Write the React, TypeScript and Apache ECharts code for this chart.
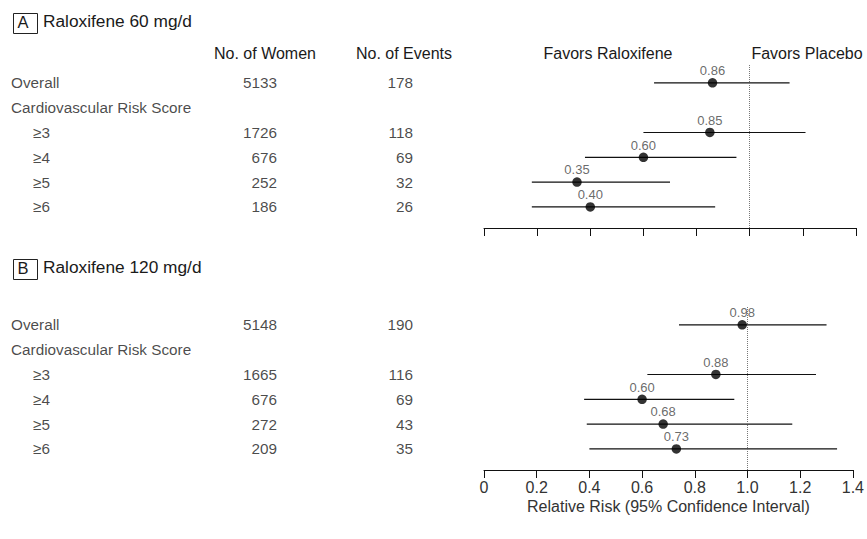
import React, { useEffect, useRef } from 'react';
import * as echarts from 'echarts';

// ---------- data ----------
const rowLabels = ['Overall', 'Cardiovascular Risk Score', '≥3', '≥4', '≥5', '≥6'];
const rowIndent = [false, false, true, true, true, true];

const panelTitles = ['Raloxifene 60 mg/d', 'Raloxifene 120 mg/d'];
const panelLetters = ['A', 'B'];

const womenA = [5133, null, 1726, 676, 252, 186];
const eventsA = [178, null, 118, 69, 32, 26];
const rrA = [0.86, null, 0.85, 0.6, 0.35, 0.4];
const loA = [0.64, null, 0.6, 0.38, 0.18, 0.18];
const hiA = [1.15, null, 1.21, 0.95, 0.7, 0.87];

const womenB = [5148, null, 1665, 676, 272, 209];
const eventsB = [190, null, 116, 69, 43, 35];
const rrB = [0.98, null, 0.88, 0.6, 0.68, 0.73];
const loB = [0.74, null, 0.62, 0.38, 0.39, 0.4];
const hiB = [1.3, null, 1.26, 0.95, 1.17, 1.34];

const columnHeaders = ['No. of Women', 'No. of Events'];
const favorLabels = ['Favors Raloxifene', 'Favors Placebo'];
const xAxisName = 'Relative Risk (95% Confidence Interval)';
const xMin = 0;
const xMax = 1.4;
const xStep = 0.2;
const refValue = 1.0;

// ---------- layout ----------
const FONT = '"Liberation Sans", Arial, Helvetica, sans-serif';
const TXT = '#1a1a1a';
const plotLeft = 484;
const plotWidth = 372;
const tableLeft = 11;
const tableWidth = 402;
const panelTops = [65, 307];
const panelHeight = 163;
const yMin = -0.72;
const yMax = 5.85;
const colIndent = 22;
const colWomen = 266;
const colEvents = 402;

const panels = [
  { women: womenA, events: eventsA, rr: rrA, lo: loA, hi: hiA },
  { women: womenB, events: eventsB, rr: rrB, lo: loB, hi: hiB },
];

function buildOption() {
  const grid: any[] = [];
  const xAxis: any[] = [];
  const yAxis: any[] = [];
  const series: any[] = [];

  panels.forEach((p, pi) => {
    // forest grid
    grid.push({ left: plotLeft, width: plotWidth, top: panelTops[pi], height: panelHeight });
    xAxis.push({
      type: 'value',
      gridIndex: pi,
      position: 'bottom',
      min: xMin,
      max: xMax,
      interval: xStep,
      axisLine: { show: true, onZero: false, lineStyle: { color: '#111', width: 1 } },
      axisTick: { show: true, inside: false, length: 8, lineStyle: { color: '#111', width: 1 } },
      splitLine: { show: false },
      axisLabel: {
        show: pi === 1,
        fontFamily: FONT,
        fontSize: 16,
        color: '#333',
        margin: 9,
        formatter: (v: number) => (v === 0 ? '0' : v.toFixed(1)),
      },
      name: pi === 1 ? xAxisName : '',
      nameLocation: 'middle',
      nameGap: 28,
      nameTextStyle: { fontFamily: FONT, fontSize: 16, color: '#333' },
    });
    yAxis.push({
      type: 'value',
      gridIndex: pi,
      inverse: true,
      min: yMin,
      max: yMax,
      show: false,
    });
  });

  panels.forEach((p, pi) => {
    // table grid
    const gi = 2 + pi;
    grid.push({ left: tableLeft, width: tableWidth, top: panelTops[pi], height: panelHeight });
    xAxis.push({ type: 'value', gridIndex: gi, min: 0, max: tableWidth, show: false });
    yAxis.push({ type: 'value', gridIndex: gi, inverse: true, min: yMin, max: yMax, show: false });
  });

  panels.forEach((p, pi) => {
    const ciData: any[] = [];
    const ptData: any[] = [];
    p.rr.forEach((v, i) => {
      if (v == null) return;
      ciData.push([p.lo[i], p.hi[i], i]);
      ptData.push([v, i]);
    });
    series.push({
      type: 'custom',
      xAxisIndex: pi,
      yAxisIndex: pi,
      clip: false,
      z: 2,
      encode: { x: [0, 1], y: 2 },
      data: ciData,
      renderItem: (params: any, api: any) => {
        const a = api.coord([api.value(0), api.value(2)]);
        const b = api.coord([api.value(1), api.value(2)]);
        return {
          type: 'line',
          shape: { x1: a[0], y1: a[1], x2: b[0], y2: b[1] },
          style: { stroke: '#111', lineWidth: 1.2 },
        };
      },
    });
    series.push({
      type: 'scatter',
      xAxisIndex: pi,
      yAxisIndex: pi,
      clip: false,
      z: 3,
      symbol: 'circle',
      symbolSize: 9.5,
      itemStyle: { color: '#000' },
      data: ptData,
      label: {
        show: true,
        position: 'top',
        distance: 1,
        fontFamily: FONT,
        fontSize: 13,
        color: '#444',
        formatter: (prm: any) => prm.value[0].toFixed(2),
      },
      markLine: {
        silent: true,
        symbol: ['none', 'none'],
        label: { show: false },
        lineStyle: { type: 'dotted', color: '#777', width: 1 },
        data: [{ xAxis: refValue }],
      },
    });

    // table texts
    const gi = 2 + pi;
    const txtStyle = { fontFamily: FONT, fontSize: 15.3, color: TXT };
    series.push({
      type: 'scatter',
      xAxisIndex: gi,
      yAxisIndex: gi,
      clip: false,
      symbolSize: 0,
      silent: true,
      data: rowLabels.map((name, i) => [rowIndent[i] ? colIndent : 0, i, name]),
      label: {
        show: true,
        position: 'right',
        distance: 0,
        ...txtStyle,
        formatter: (prm: any) => prm.value[2],
      },
    });
    series.push({
      type: 'scatter',
      xAxisIndex: gi,
      yAxisIndex: gi,
      clip: false,
      symbolSize: 0,
      silent: true,
      data: p.women
        .map((w, i) => (w == null ? null : [colWomen, i, String(w)]))
        .filter((d) => d != null),
      label: {
        show: true,
        position: 'left',
        distance: 0,
        ...txtStyle,
        formatter: (prm: any) => prm.value[2],
      },
    });
    series.push({
      type: 'scatter',
      xAxisIndex: gi,
      yAxisIndex: gi,
      clip: false,
      symbolSize: 0,
      silent: true,
      data: p.events
        .map((w, i) => (w == null ? null : [colEvents, i, String(w)]))
        .filter((d) => d != null),
      label: {
        show: true,
        position: 'left',
        distance: 0,
        ...txtStyle,
        formatter: (prm: any) => prm.value[2],
      },
    });
  });

  // titles & headers
  const titleY = [21, 267];
  const graphic: any[] = [];
  panelTitles.forEach((t, pi) => {
    graphic.push({
      type: 'rect',
      left: 11,
      top: titleY[pi] - 10,
      shape: { width: 24, height: 20 },
      style: { fill: 'none', stroke: '#222', lineWidth: 1 },
    });
    graphic.push({
      type: 'text',
      x: 23,
      y: titleY[pi] + 1,
      style: {
        text: panelLetters[pi],
        fontFamily: FONT,
        fontSize: 16.5,
        fill: TXT,
        textAlign: 'center',
        textVerticalAlign: 'middle',
      },
    });
    graphic.push({
      type: 'text',
      x: 43,
      y: titleY[pi],
      style: {
        text: t,
        fontFamily: FONT,
        fontSize: 17.3,
        fill: TXT,
        textAlign: 'left',
        textVerticalAlign: 'middle',
      },
    });
  });
  const headerY = 53;
  const headerStyle = {
    fontFamily: FONT,
    fontSize: 16,
    fill: TXT,
    textAlign: 'center',
    textVerticalAlign: 'middle',
  };
  graphic.push({ type: 'text', x: 265, y: headerY, style: { ...headerStyle, text: columnHeaders[0] } });
  graphic.push({ type: 'text', x: 404, y: headerY, style: { ...headerStyle, text: columnHeaders[1] } });
  graphic.push({ type: 'text', x: 608, y: headerY, style: { ...headerStyle, text: favorLabels[0] } });
  graphic.push({ type: 'text', x: 807, y: headerY, style: { ...headerStyle, text: favorLabels[1] } });

  return {
    animation: false,
    backgroundColor: '#fff',
    grid,
    xAxis,
    yAxis,
    series,
    graphic,
  };
}

export default function App() {
  const ref = useRef<HTMLDivElement>(null);
  useEffect(() => {
    const chart = echarts.init(ref.current!, null, { renderer: 'svg' });
    chart.setOption(buildOption() as any);
    return () => chart.dispose();
  }, []);
  return (
    <div
      ref={ref}
      style={{ position: 'fixed', left: 0, top: 0, width: 867, height: 539, background: '#fff' }}
    />
  );
}
